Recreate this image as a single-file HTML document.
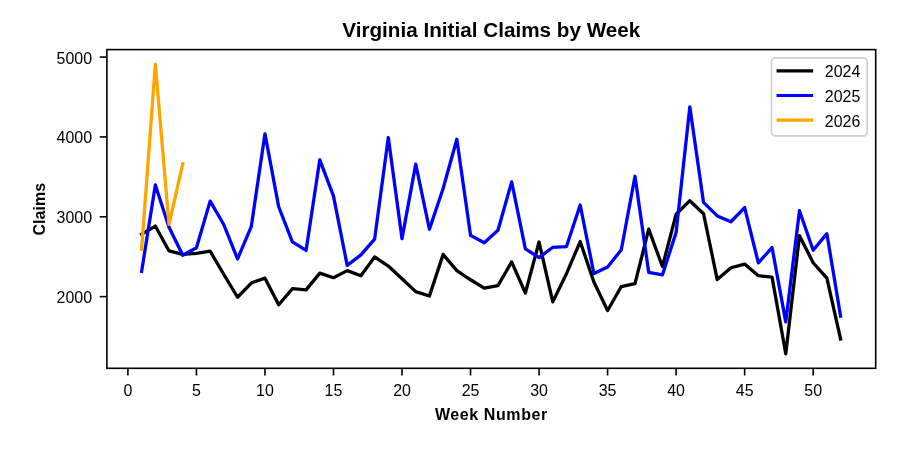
<!DOCTYPE html>
<html><head><meta charset="utf-8"><style>
html,body{margin:0;padding:0;background:#fff;}
svg{display:block;will-change:transform;}
.tk{font-family:"Liberation Sans",sans-serif;font-size:17px;fill:#000;}
.ti{font-family:"Liberation Sans",sans-serif;font-size:20.7px;font-weight:bold;fill:#000;}
.lb{font-family:"Liberation Sans",sans-serif;font-size:16px;font-weight:bold;fill:#000;}
</style></head><body>
<svg width="898" height="449" viewBox="0 0 898 449">
<rect width="898" height="449" fill="#fff"/>
<rect x="106.9" y="49.6" width="768.80" height="318.70" fill="none" stroke="#000" stroke-width="1.6"/>
<line x1="127.92" y1="368.3" x2="127.92" y2="375.50" stroke="#000" stroke-width="1.6"/>
<text transform="translate(127.92,395.5) scale(0.94,1)" text-anchor="middle" class="tk">0</text>
<line x1="196.44" y1="368.3" x2="196.44" y2="375.50" stroke="#000" stroke-width="1.6"/>
<text transform="translate(196.44,395.5) scale(0.94,1)" text-anchor="middle" class="tk">5</text>
<line x1="264.97" y1="368.3" x2="264.97" y2="375.50" stroke="#000" stroke-width="1.6"/>
<text transform="translate(264.97,395.5) scale(0.94,1)" text-anchor="middle" class="tk">10</text>
<line x1="333.50" y1="368.3" x2="333.50" y2="375.50" stroke="#000" stroke-width="1.6"/>
<text transform="translate(333.50,395.5) scale(0.94,1)" text-anchor="middle" class="tk">15</text>
<line x1="402.02" y1="368.3" x2="402.02" y2="375.50" stroke="#000" stroke-width="1.6"/>
<text transform="translate(402.02,395.5) scale(0.94,1)" text-anchor="middle" class="tk">20</text>
<line x1="470.55" y1="368.3" x2="470.55" y2="375.50" stroke="#000" stroke-width="1.6"/>
<text transform="translate(470.55,395.5) scale(0.94,1)" text-anchor="middle" class="tk">25</text>
<line x1="539.07" y1="368.3" x2="539.07" y2="375.50" stroke="#000" stroke-width="1.6"/>
<text transform="translate(539.07,395.5) scale(0.94,1)" text-anchor="middle" class="tk">30</text>
<line x1="607.60" y1="368.3" x2="607.60" y2="375.50" stroke="#000" stroke-width="1.6"/>
<text transform="translate(607.60,395.5) scale(0.94,1)" text-anchor="middle" class="tk">35</text>
<line x1="676.12" y1="368.3" x2="676.12" y2="375.50" stroke="#000" stroke-width="1.6"/>
<text transform="translate(676.12,395.5) scale(0.94,1)" text-anchor="middle" class="tk">40</text>
<line x1="744.64" y1="368.3" x2="744.64" y2="375.50" stroke="#000" stroke-width="1.6"/>
<text transform="translate(744.64,395.5) scale(0.94,1)" text-anchor="middle" class="tk">45</text>
<line x1="813.17" y1="368.3" x2="813.17" y2="375.50" stroke="#000" stroke-width="1.6"/>
<text transform="translate(813.17,395.5) scale(0.94,1)" text-anchor="middle" class="tk">50</text>
<line x1="99.70" y1="296.64" x2="106.9" y2="296.64" stroke="#000" stroke-width="1.6"/>
<text transform="translate(92.1,303.09) scale(0.94,1)" text-anchor="end" class="tk">2000</text>
<line x1="99.70" y1="216.79" x2="106.9" y2="216.79" stroke="#000" stroke-width="1.6"/>
<text transform="translate(92.1,223.24) scale(0.94,1)" text-anchor="end" class="tk">3000</text>
<line x1="99.70" y1="136.94" x2="106.9" y2="136.94" stroke="#000" stroke-width="1.6"/>
<text transform="translate(92.1,143.39) scale(0.94,1)" text-anchor="end" class="tk">4000</text>
<line x1="99.70" y1="57.09" x2="106.9" y2="57.09" stroke="#000" stroke-width="1.6"/>
<text transform="translate(92.1,63.54) scale(0.94,1)" text-anchor="end" class="tk">5000</text>
<polyline points="141.62,234.21 155.33,226.07 169.03,250.96 182.74,254.31 196.44,253.28 210.15,251.20 223.86,274.50 237.56,297.25 251.26,283.04 264.97,278.18 278.68,304.75 292.38,288.71 306.08,289.91 319.79,273.15 333.50,277.70 347.20,270.59 360.91,275.70 374.61,256.87 388.31,266.05 402.02,278.73 415.73,291.58 429.43,295.97 443.13,254.39 456.84,270.59 470.55,279.77 484.25,288.15 497.96,285.60 511.66,261.90 525.37,293.02 539.07,242.03 552.77,301.88 566.48,273.71 580.18,241.55 593.89,282.09 607.60,310.49 621.30,286.55 635.00,283.68 648.71,229.10 662.41,266.52 676.12,214.26 689.82,200.69 703.53,213.70 717.24,279.61 730.94,267.72 744.64,264.05 758.35,275.70 772.05,277.14 785.76,353.83 799.46,235.72 813.17,262.77 826.88,278.10 840.58,339.06" fill="none" stroke="#000000" stroke-width="3.3" stroke-linejoin="round" stroke-linecap="square"/>
<polyline points="141.62,271.47 155.33,184.89 169.03,227.26 182.74,255.27 196.44,247.77 210.15,201.09 223.86,224.79 237.56,258.94 251.26,226.70 264.97,133.82 278.68,206.75 292.38,241.79 306.08,250.48 319.79,159.83 333.50,196.14 347.20,265.41 360.91,254.87 374.61,239.15 388.31,137.57 402.02,238.67 415.73,164.14 429.43,229.26 443.13,188.56 456.84,139.24 470.55,235.40 484.25,242.82 497.96,230.30 511.66,181.86 525.37,248.89 539.07,257.59 552.77,247.29 566.48,246.57 580.18,205.00 593.89,273.55 607.60,267.08 621.30,249.77 635.00,176.27 648.71,272.35 662.41,274.90 676.12,232.37 689.82,106.84 703.53,202.44 717.24,215.93 730.94,221.76 744.64,207.55 758.35,262.93 772.05,247.53 785.76,321.83 799.46,210.74 813.17,250.32 826.88,233.65 840.58,316.08" fill="none" stroke="#0000ff" stroke-width="3.3" stroke-linejoin="round" stroke-linecap="square"/>
<polyline points="141.62,249.21 155.33,64.07 169.03,224.31 182.74,163.82" fill="none" stroke="#ffa500" stroke-width="3.3" stroke-linejoin="round" stroke-linecap="square"/>
<rect x="771.5" y="57.9" width="95.7" height="78.0" rx="3.6" ry="3.6" fill="#fff" fill-opacity="0.8" stroke="#cfcfcf" stroke-width="1.6"/>
<line x1="778.1" y1="70.90" x2="811.6" y2="70.90" stroke="#000000" stroke-width="3.1" stroke-linecap="square"/>
<text transform="translate(824.8,77.30) scale(0.94,1)" class="tk">2024</text>
<line x1="778.1" y1="95.50" x2="811.6" y2="95.50" stroke="#0000ff" stroke-width="3.1" stroke-linecap="square"/>
<text transform="translate(824.8,101.90) scale(0.94,1)" class="tk">2025</text>
<line x1="778.1" y1="120.10" x2="811.6" y2="120.10" stroke="#ffa500" stroke-width="3.1" stroke-linecap="square"/>
<text transform="translate(824.8,126.50) scale(0.94,1)" class="tk">2026</text>
<text x="491.3" y="37" text-anchor="middle" class="ti">Virginia Initial Claims by Week</text>
<text x="491.1" y="419.5" text-anchor="middle" class="lb" textLength="112.3" lengthAdjust="spacing">Week Number</text>
<text transform="translate(44.6,209.2) rotate(-90)" text-anchor="middle" class="lb">Claims</text>
</svg>
</body></html>
